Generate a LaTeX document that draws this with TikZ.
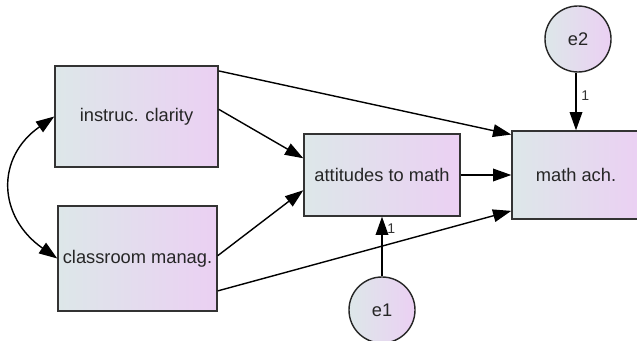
\documentclass[tikz,border=0pt]{standalone}
\usepackage{fontspec}
\setmainfont{Liberation Sans}
\usetikzlibrary{arrows.meta,shapes.geometric}
\definecolor{shL}{HTML}{DDE7E9}
\definecolor{shR}{HTML}{EBD0F3}
\definecolor{edge}{HTML}{333333}

\begin{document}
\begin{tikzpicture}[x=0.025cm, y=0.025cm,
    var/.style={rectangle, draw=edge, line width=1pt, left color=shL, right color=shR, inner sep=0pt, align=center, font=\fontsize{13}{15}\selectfont, text=black!85},
    err/.style={ellipse, draw=black!85, line width=1pt, left color=shL, right color=shR, inner sep=0pt, minimum width=1.65cm, minimum height=1.65cm, font=\fontsize{13}{15}\selectfont, text=black!85},
    ar/.style={line width=1pt, -{Triangle[length=13pt,width=9pt]}},
    one/.style={font=\fontsize{10}{11}\selectfont, text=black!80}]
    \useasboundingbox (0,0) rectangle (637,341);
    \begin{scope}
    \clip (0,0) rectangle (637,341);
    \node [var, minimum width=4.075cm, minimum height=2.525cm] (clarity) at (136.5,224.5) {instruc. clarity};
    \node [var, minimum width=3.975cm, minimum height=2.625cm] (manag) at (137.5,82.5) {classroom manag.};
    \node [var, minimum width=3.9cm, minimum height=2.05cm] (att) at (382,166) {attitudes to math};
    \node [var, minimum width=3.2cm, minimum height=2.2cm] (ach) at (576,166) {math ach.};
    \node [err] (e2) at (578,302) {e2};
    \node [err] (e1) at (382,31) {e1};
    \draw [ar] (clarity.29) -- (ach.148);
    \draw [ar] (clarity.5) -- (att.168);
    \draw [ar] (manag.2) -- (att.191);
    \draw [ar] (manag.-22) -- (ach.209);
    \draw [ar] (att.east) -- (ach.west |- att.east);
    \draw [ar] (e2.south -| ach.north) -- node[one, right, pos=0.4]{1} (ach.north);
    \draw [ar] (e1.north) -- node[one, right, pos=0.8]{1} (att.south);
    \draw [line width=1pt, {Triangle[length=13pt,width=9pt]}-{Triangle[length=13pt,width=9pt]}] (clarity.west) to[out=215, in=145, looseness=1.3] (manag.west);
    \end{scope}
\end{tikzpicture}
\end{document}
